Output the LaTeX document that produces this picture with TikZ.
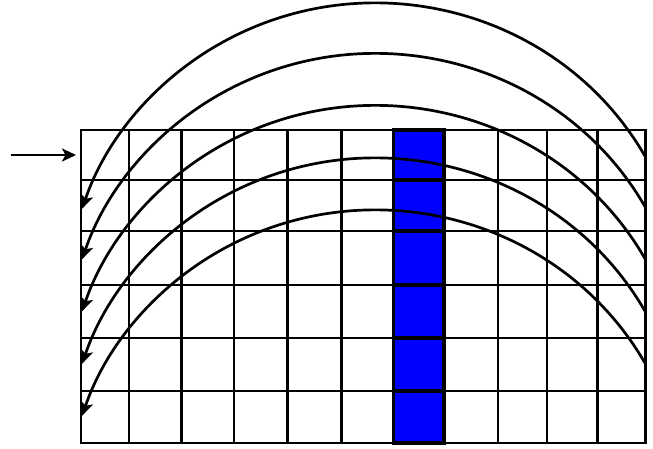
\documentclass[tikz,border=0pt]{standalone}
\usetikzlibrary{arrows.meta}
\definecolor{cellblue}{RGB}{0,0,255}
\begin{document}
\begin{tikzpicture}[x=1pt,y=-1pt,
  gridline/.style={line width=2.7pt, line cap=rect},
  bluecell/.style={fill=cellblue, draw=black, line width=3.8pt},
  flow/.style={line width=2.7pt, -{Stealth[length=14pt,width=13pt,inset=3.5pt]}},
  loop/.style={flow, line cap=round}]
\useasboundingbox (0,0) rectangle (653,448);
% grid
\foreach \x in {81,129,181.5,234,287.5,341.5,393.5,444,498,547,597.5,645.5}
  \draw[gridline] (\x,130) -- (\x,443);
\foreach \y in {130,180,231,285,338,391,443}
  \draw[gridline] (81,\y) -- (645.5,\y);
% blue column
\foreach \a/\b in {130/180,180/231,231/285,285/338,338/391,391/443}
  \draw[bluecell] (393.5,\a) rectangle (444,\b);
% input arrow
\coordinate (in) at (11,155);
\coordinate (entry) at (76,155);
\draw[flow] (in) -- (entry);
% loop-back arcs
\coordinate (r1) at (645.5,157);
\coordinate (r2) at (645.5,207.5);
\coordinate (r3) at (645.5,259.5);
\coordinate (r4) at (645.5,312);
\coordinate (r5) at (645.5,364);
\foreach \r in {r1,r2,r3,r4,r5}
  \draw[loop] (\r) arc[start angle=29.1, end angle=161.7, x radius=309pt, y radius=300pt];
\end{tikzpicture}
\end{document}
